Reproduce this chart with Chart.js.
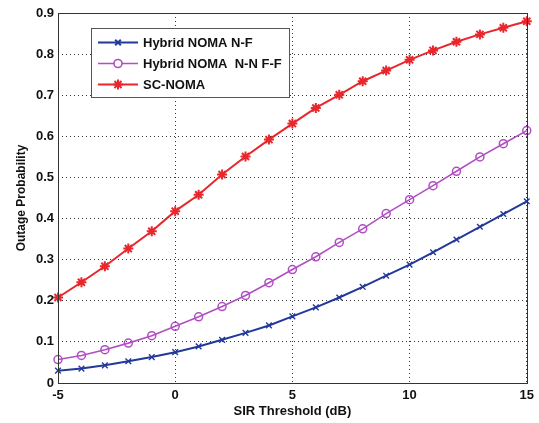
<!DOCTYPE html>
<html>
<head>
<meta charset="utf-8">
<script src="https://cdn.jsdelivr.net/npm/chart.js@4/dist/chart.umd.min.js"></script>
<style>
  html, body { margin: 0; padding: 0; background: #fff; }
  #wrap { width: 539px; height: 423px; position: relative; }
</style>
</head>
<body>
<div id="wrap"><canvas id="outage-chart" width="539" height="423"></canvas></div>
<script>
// SIR threshold in dB
const sirDb = [-5, -4, -3, -2, -1, 0, 1, 2, 3, 4, 5, 6, 7, 8, 9, 10, 11, 12, 13, 14, 15]

const hybridNF = [0.030, 0.035, 0.043, 0.053, 0.063, 0.075, 0.089, 0.105, 0.122, 0.140, 0.162,
    0.184, 0.208, 0.234, 0.261, 0.288, 0.318, 0.349, 0.380, 0.411, 0.442]
const hybridNNFF = [0.057, 0.067, 0.081, 0.097, 0.115, 0.138, 0.161, 0.186, 0.213, 0.244, 0.276,
    0.307, 0.342, 0.375, 0.412, 0.446, 0.480, 0.515, 0.550, 0.582, 0.614]
const scNoma = [0.208, 0.245, 0.284, 0.327, 0.369, 0.418, 0.458, 0.507, 0.551, 0.592, 0.631,
    0.669, 0.701, 0.734, 0.760, 0.786, 0.809, 0.830, 0.848, 0.864, 0.880]

const seriesNames = ['Hybrid NOMA N-F', 'Hybrid NOMA  N-N F-F', 'SC-NOMA']
const xTicks = [-5, 0, 5, 10, 15]
const yTicks = [0, 0.1, 0.2, 0.3, 0.4, 0.5, 0.6, 0.7, 0.8, 0.9]

const FONT = 'Liberation Sans, Arial, Helvetica, sans-serif'

const toPoints = ys => ys.map((y, i) => ({ x: sirDb[i], y: y }))

// box around the plot like matlab does
const boxPlugin = {
    id: 'plotBox',
    afterDatasetsDraw(chart) {
        const { ctx, chartArea: a } = chart
        ctx.save()
        ctx.strokeStyle = '#333'
        ctx.lineWidth = 1
        ctx.strokeRect(Math.round(a.left) + 0.5, Math.round(a.top) + 0.5,
            Math.round(a.right - a.left), Math.round(a.bottom - a.top))
        ctx.restore()
    }
}

// legend box in the upper left corner of the plot
const legendBoxPlugin = {
    id: 'legendBox',
    afterDraw(chart) {
        const ctx = chart.ctx
        const a = chart.chartArea
        const x0 = a.left + 33, y0 = a.top + 15, w = 198, h = 69
        ctx.save()
        ctx.fillStyle = '#fff'
        ctx.fillRect(x0, y0, w, h)
        ctx.strokeStyle = '#555'
        ctx.lineWidth = 1
        ctx.strokeRect(x0 + 0.5, y0 + 0.5, w, h)
        chart.data.datasets.forEach((ds, i) => {
            const y = y0 + 14.5 + i * 21
            ctx.strokeStyle = ds.borderColor
            ctx.lineWidth = ds.borderWidth
            ctx.beginPath()
            ctx.moveTo(x0 + 7, y)
            ctx.lineTo(x0 + 47, y)
            ctx.stroke()
            ctx.fillStyle = '#fff'
            Chart.helpers.drawPoint(ctx, {
                pointStyle: ds.pointStyle,
                radius: ds.pointRadius,
                borderWidth: ds.pointBorderWidth,
                rotation: 0
            }, x0 + 27, y)
            ctx.fillStyle = '#111'
            ctx.font = 'bold 13px ' + FONT
            ctx.textBaseline = 'middle'
            ctx.fillText(seriesNames[i], x0 + 52, y + 0.5)
        })
        ctx.restore()
    }
}

const ctx = document.getElementById('outage-chart').getContext('2d')

const chart = new Chart(ctx, {
    type: 'line',
    plugins: [boxPlugin, legendBoxPlugin],
    data: {
        datasets: [{
            label: seriesNames[0],
            data: toPoints(hybridNF),
            borderColor: '#23399a',
            backgroundColor: '#23399a',
            borderWidth: 2,
            pointStyle: 'crossRot',
            pointRadius: 4,
            pointBorderWidth: 1.4,
            clip: false
        }, {
            label: seriesNames[1],
            data: toPoints(hybridNNFF),
            borderColor: '#b24ec4',
            backgroundColor: 'rgba(255,255,255,0)',
            borderWidth: 1.6,
            pointStyle: 'circle',
            pointRadius: 4,
            pointBorderWidth: 1.5,
            clip: false
        }, {
            label: seriesNames[2],
            data: toPoints(scNoma),
            borderColor: '#e8262b',
            backgroundColor: '#e8262b',
            borderWidth: 2,
            pointStyle: 'star',
            pointRadius: 5,
            pointBorderWidth: 2,
            clip: false
        }]
    },
    options: {
        responsive: false,
        animation: false,
        devicePixelRatio: 1,
        layout: { padding: { top: 13, right: 11, left: 0, bottom: 0 } },
        plugins: {
            legend: { display: false },
            tooltip: { enabled: false }
        },
        elements: { line: { tension: 0 } },
        scales: {
            x: {
                type: 'linear',
                min: -5,
                max: 15,
                afterBuildTicks: s => { s.ticks = xTicks.map(v => ({ value: v })) },
                afterFit: s => { s.height = 40 },
                grid: { color: '#333', lineWidth: 1, drawTicks: false },
                border: { display: false, dash: [1, 3] },
                ticks: { color: '#111', padding: 5, autoSkip: false, maxRotation: 0, font: { family: FONT, size: 13, weight: 'bold' } },
                title: {
                    display: true,
                    text: 'SIR Threshold (dB)',
                    color: '#111',
                    padding: { top: 0, bottom: 4 },
                    font: { family: FONT, size: 13, weight: 'bold' }
                }
            },
            y: {
                min: 0,
                max: 0.9,
                afterBuildTicks: s => { s.ticks = yTicks.map(v => ({ value: v })) },
                afterFit: s => { s.width = 58 },
                grid: { color: '#333', lineWidth: 1, drawTicks: false },
                border: { display: false, dash: [1, 3] },
                ticks: {
                    color: '#111',
                    padding: 4,
                    autoSkip: false,
                    font: { family: FONT, size: 13, weight: 'bold' },
                    callback: v => String(Math.round(v * 10) / 10)
                },
                title: {
                    display: true,
                    text: 'Outage Probability',
                    color: '#111',
                    padding: { top: 14, bottom: 0 },
                    font: { family: FONT, size: 12, weight: 'bold' }
                }
            }
        }
    }
})
</script>
</body>
</html>
